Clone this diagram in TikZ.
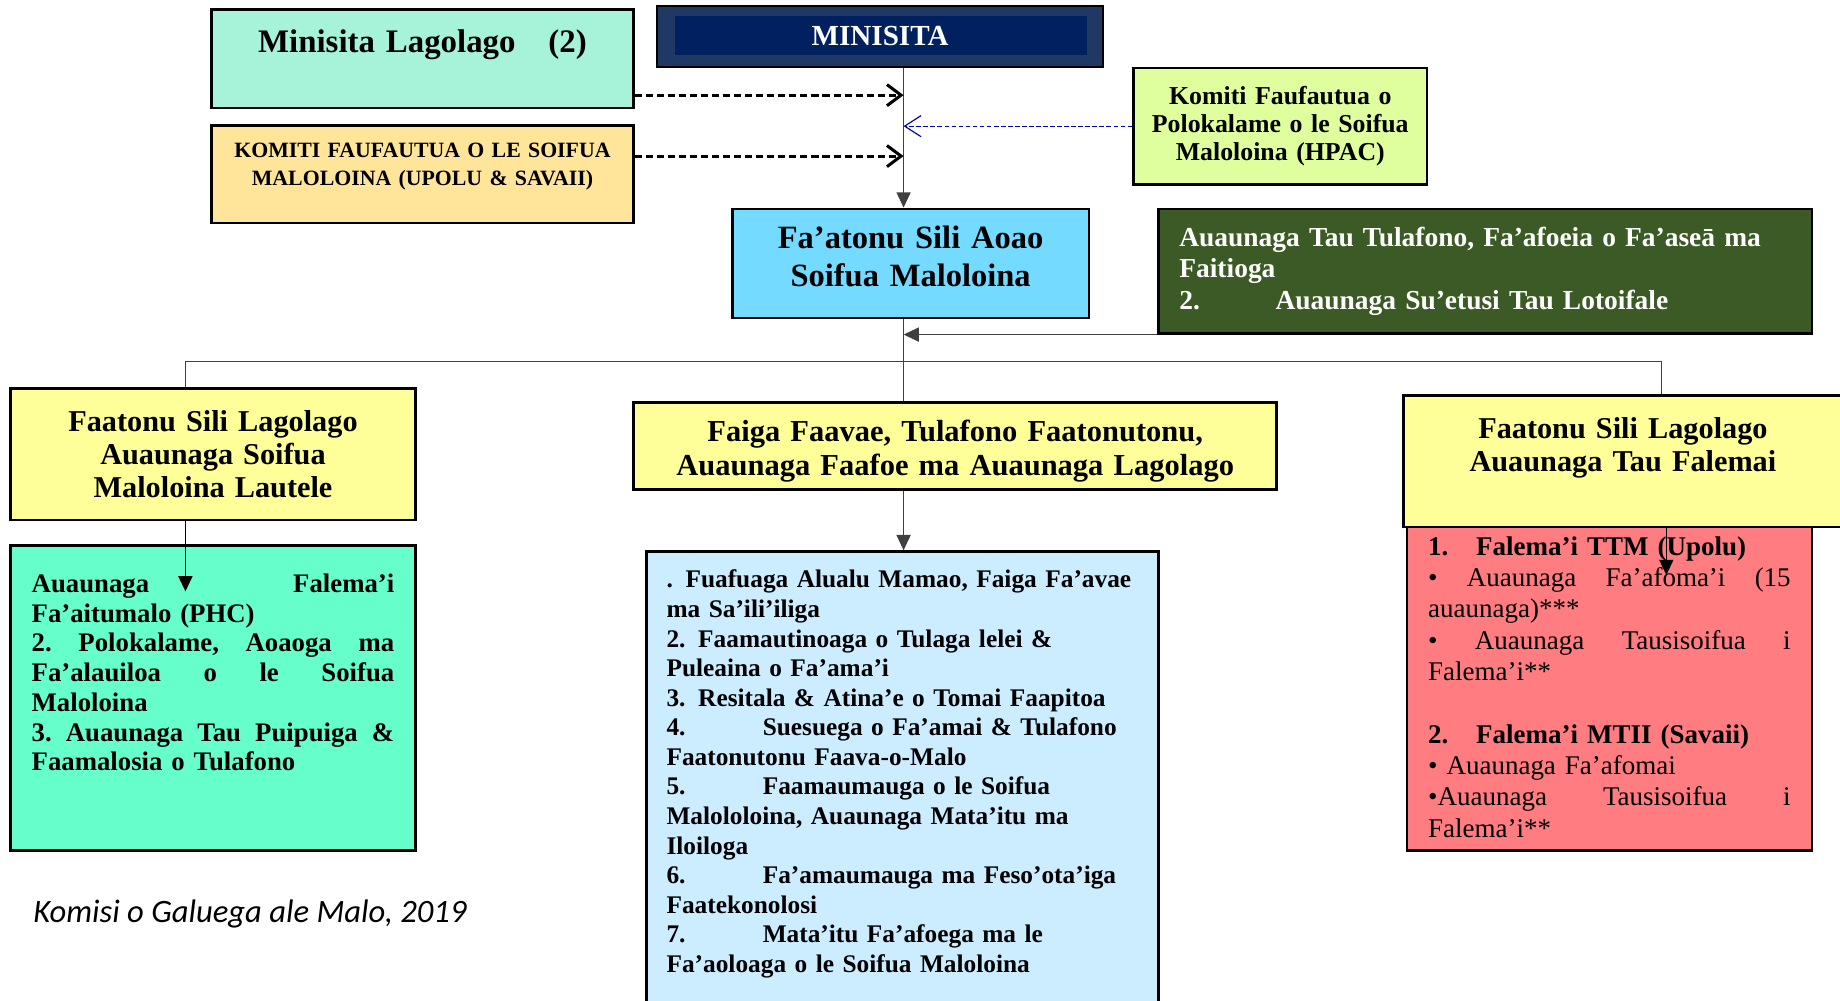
\documentclass[tikz,border=0pt]{standalone}
\usepackage{fontspec}
\setmainfont{Liberation Serif}
\newfontfamily\capfont{Carlito}
\usetikzlibrary{arrows.meta}

\definecolor{lagofill}{HTML}{A7F3DA}
\definecolor{navyout}{HTML}{1F3864}
\definecolor{navyin}{HTML}{002060}
\definecolor{komitifill}{HTML}{FFE599}
\definecolor{hpacfill}{HTML}{DFFF9F}
\definecolor{aoaofill}{HTML}{75DAFF}
\definecolor{lawfill}{HTML}{3C5A25}
\definecolor{unitfill}{HTML}{FFFF99}
\definecolor{phcfill}{HTML}{66FFCC}
\definecolor{listfill}{HTML}{CCECFF}
\definecolor{hospfill}{HTML}{FF7C80}

\newcommand{\itemtab}[1]{\makebox[41pt][l]{#1}}
\newcommand{\itemhead}[1]{\makebox[20.5pt][l]{#1}}

\begin{document}
\begin{tikzpicture}[
        x=0.5pt, y=-0.5pt,
        box/.style={draw, line width=1.1pt, inner sep=0pt},
        arrow/.style={-{Triangle[length=6.5pt, width=6pt]}, line width=0.6pt},
        link/.style={line width=0.6pt, black!75},
        dasharrow/.style={-{Straight Barb[length=6pt, width=9pt]}, line width=1.3pt, dash pattern=on 3pt off 1.7pt},
        hpacarrow/.style={-{Straight Barb[length=7pt, width=9pt]}, line width=0.5pt, blue!75!black, dash pattern=on 2pt off 1pt}
      ]
        \useasboundingbox (0,0) rectangle (1568,853);
        \clip (0,0) rectangle (1568,853);

        % Top level
        \node[box, fill=navyout, text=white, minimum width=190pt, minimum height=26pt,
              font=\bfseries\fontsize{12.4}{14}\selectfont,
              path picture={\fill[navyin] ([shift={(7.5pt,-4.5pt)}]path picture bounding box.north west)
                rectangle ([shift={(-7pt,5pt)}]path picture bounding box.south east);}]
              (minisita) at (750,31) {MINISITA};
        \node[box, fill=lagofill, minimum width=180pt, minimum height=42pt, text width=175pt, align=center,
              text height=18.2pt, text depth=23.8pt, font=\bfseries\fontsize{14}{17}\selectfont]
              (lago) at (360,50) {Minisita Lagolago\quad(2)};
        \node[box, fill=komitifill, minimum width=180pt, minimum height=41.5pt, text width=175pt, align=center,
              text height=13.5pt, text depth=28pt, font=\bfseries\fontsize{9.3}{12}\selectfont]
              (komiti) at (360,148.5) {KOMITI FAUFAUTUA O LE SOIFUA\\MALOLOINA (UPOLU \& SAVAII)};
        \node[box, fill=hpacfill, minimum width=125pt, minimum height=49.5pt, text width=120pt, align=center,
              font=\bfseries\fontsize{11}{12}\selectfont]
              (hpac) at (1091,107.5) {Komiti Faufautua o\\Polokalame o le Soifua\\Maloloina (HPAC)};
        \node[box, fill=aoaofill, minimum width=152pt, minimum height=46.5pt, text width=148pt, align=center,
              text height=17pt, text depth=29.5pt, font=\bfseries\fontsize{13.85}{16}\selectfont]
              (aoao) at (776,224.5) {Fa’atonu Sili Aoao\\Soifua Maloloina};
        \node[box, fill=lawfill, text=white, minimum width=278.5pt, minimum height=53pt, text width=260.5pt, align=left,
              font=\bfseries\fontsize{11.7}{13.5}\selectfont]
              (law) at (1265.5,231) {Auaunaga Tau Tulafono, Fa’afoeia o Fa’aseā ma\\Faitioga\\\itemtab{2.}Auaunaga Su’etusi Tau Lotoifale};

        % Second level
        \node[box, fill=unitfill, minimum width=172.5pt, minimum height=56pt, text width=168pt, align=center,
              font=\bfseries\fontsize{12.9}{14.25}\selectfont]
              (lautele) at (181.5,387) {Faatonu Sili Lagolago\\Auaunaga Soifua\\Maloloina Lautele};
        \node[box, fill=unitfill, minimum width=274pt, minimum height=37pt, text width=270pt, align=center,
              text height=16.5pt, text depth=20.5pt, font=\bfseries\fontsize{13}{14.5}\selectfont]
              (faiga) at (814,380) {Faiga Faavae, Tulafono Faatonutonu,\\Auaunaga Faafoe ma Auaunaga Lagolago};

        % Third level
        \node[box, fill=phcfill, minimum width=172.5pt, minimum height=130pt, text width=154.5pt, align=left,
              text height=20pt, text depth=110pt, font=\bfseries\fontsize{11.4}{12.65}\selectfont]
              (phc) at (181.5,595) {Auaunaga\hfill Falema’i\\
                Fa’aitumalo (PHC)\\
                2.\hfill Polokalame,\hfill Aoaoga\hfill ma\\
                Fa’alauiloa\hfill o\hfill le\hfill Soifua\\
                Maloloina\\
                3.\hfill Auaunaga\hfill Tau\hfill Puipuiga\hfill \&\\
                Faamalosia o Tulafono};
        \node[box, fill=listfill, minimum width=218pt, minimum height=205pt, text width=201pt, align=left,
              text height=15.5pt, text depth=189.5pt, font=\bfseries\fontsize{10.8}{12.6}\selectfont]
              (list) at (769,675) {. Fuafuaga Alualu Mamao, Faiga Fa’avae\\
                ma Sa’ili’iliga\\
                2. Faamautinoaga o Tulaga lelei \&\\
                Puleaina o Fa’ama’i\\
                3. Resitala \& Atina’e o Tomai Faapitoa\\
                \itemtab{4.}Suesuega o Fa’amai \& Tulafono\\
                Faatonutonu Faava-o-Malo\\
                \itemtab{5.}Faamaumauga o le Soifua\\
                Malololoina, Auaunaga Mata’itu ma\\
                Iloiloga\\
                \itemtab{6.}Fa’amaumauga ma Feso’ota’iga\\
                Faatekonolosi\\
                \itemtab{7.}Mata’itu Fa’afoega ma le\\
                Fa’aoloaga o le Soifua Maloloina};
        \node[box, fill=hospfill, minimum width=172.5pt, minimum height=138pt, text width=154.5pt, align=left,
              text height=12pt, text depth=126pt, font=\fontsize{11.5}{13.35}\selectfont]
              (hosp) at (1371.5,587) {\textbf{\itemhead{1.}Falema’i TTM (Upolu)}\\
                •\hfill Auaunaga\hfill Fa’afoma’i\hfill (15\\
                auaunaga)***\\
                •\hfill Auaunaga\hfill Tausisoifua\hfill i\\
                Falema’i**\\[13.35pt]
                \textbf{\itemhead{2.}Falema’i MTII (Savaii)}\\
                • Auaunaga Fa’afomai\\
                •Auaunaga\hfill Tausisoifua\hfill i\\
                Falema’i**};
        \node[box, fill=unitfill, minimum width=187pt, minimum height=56pt, text width=180pt, align=center,
              text height=18.5pt, text depth=37.5pt, font=\bfseries\fontsize{12.9}{14}\selectfont]
              (falemai) at (1383,393) {Faatonu Sili Lagolago\\Auaunaga Tau Falemai};

        \node[anchor=base west, inner sep=0pt, font=\capfont\itshape\fontsize{13.9}{16}\selectfont]
              (source) at (28,786) {Komisi o Galuega ale Malo, 2019};

        \coordinate (trunk) at (770,0);
        \coordinate (busL) at (158,308);
        \coordinate (busR) at (1416,308);
        \coordinate (phctip) at (158,504);
        \coordinate (hosptip) at (1420,490);
        \path ([yshift=6pt]lago.south east) coordinate (lagoout)
              ([yshift=7.75pt]komiti.east) coordinate (komitiout);

        % Arrows into the trunk
        \draw[arrow, link] (minisita.south -| trunk) -- (aoao.north -| trunk);
        \draw[dasharrow] (lagoout) -- (lagoout -| trunk);
        \draw[dasharrow] (komitiout) -- (komitiout -| trunk);
        \draw[hpacarrow] (hpac.west) -- (hpac.west -| trunk);
        \draw[arrow, link] (law.south west) -- (law.south west -| trunk);

        % Down to the branches
        \draw[link] (aoao.south -| trunk) -- (faiga.north -| trunk);
        \draw[link] (busL) -- (busR);
        \draw[link] (busL) -- (lautele.north -| busL);
        \draw[link] (busR) -- (falemai.north -| busR);
        \draw[arrow, link] (faiga.south -| trunk) -- (list.north -| trunk);
        \draw[arrow] (lautele.south -| busL) -- (phctip);
        \draw[arrow] (falemai.south -| hosptip) -- (hosptip);
    \end{tikzpicture}
\end{document}
